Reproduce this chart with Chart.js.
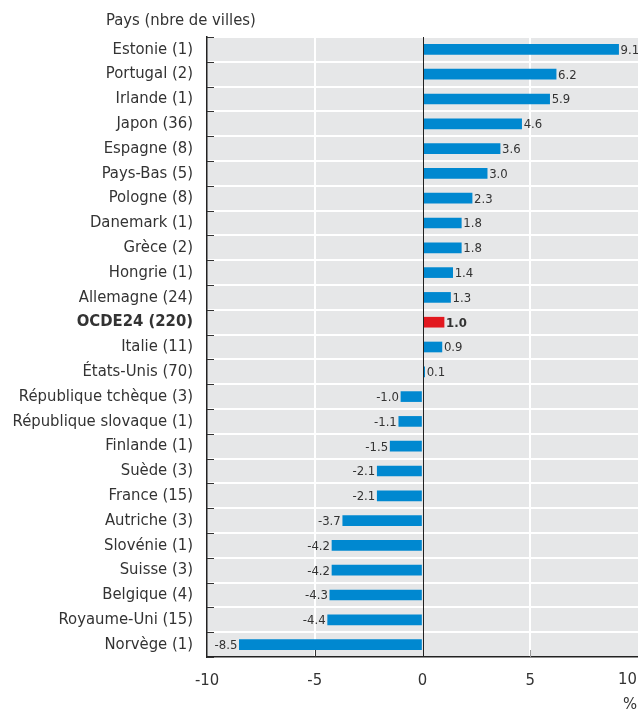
<!DOCTYPE html>
<html><head><meta charset="utf-8">
<script src="https://cdn.jsdelivr.net/npm/chart.js@4.4.1/dist/chart.umd.min.js"></script>
<style>html,body{margin:0;padding:0;background:#fff}#wrap{width:638px;height:712px;position:relative}</style>
</head><body><div id="wrap"><canvas id="c" width="638" height="712"></canvas></div>
<script>
const categories = ["Estonie (1)","Portugal (2)","Irlande (1)","Japon (36)","Espagne (8)","Pays-Bas (5)","Pologne (8)","Danemark (1)","Grèce (2)","Hongrie (1)","Allemagne (24)","OCDE24 (220)","Italie (11)","États-Unis (70)","République tchèque (3)","République slovaque (1)","Finlande (1)","Suède (3)","France (15)","Autriche (3)","Slovénie (1)","Suisse (3)","Belgique (4)","Royaume-Uni (15)","Norvège (1)"];
const values = [9.1,6.2,5.9,4.6,3.6,3.0,2.3,1.8,1.8,1.4,1.3,1.0,0.9,0.1,-1.0,-1.1,-1.5,-2.1,-2.1,-3.7,-4.2,-4.2,-4.3,-4.4,-8.5];
const xTicks = [-10,-5,0,5,10];
const highlight = "OCDE24 (220)";
const axisTitle = "Pays (nbre de villes)";
const unitLabel = "%";

const FONT = '"Liberation Sans Narrow","DejaVu Sans Condensed","Roboto Condensed",sans-serif';
const TXT = '#333333';
const BLUE = '#0088d0';
const RED = '#e2181f';
const XMAX = xTicks[xTicks.length - 1];

const decor = {
  id: 'decor',
  beforeDraw(chart) {
    const {ctx, chartArea: a} = chart;
    ctx.save();
    ctx.fillStyle = '#e6e7e8';
    ctx.fillRect(a.left, a.top, a.right - a.left, a.bottom - a.top);
    ctx.restore();
  },
  afterDatasetsDraw(chart) {
    const {ctx, chartArea: a, scales: {x, y}} = chart;
    ctx.save();
    const x0 = Math.round(x.getPixelForValue(0)) + 0.5;
    ctx.strokeStyle = '#222';
    ctx.lineWidth = 1;
    ctx.beginPath(); ctx.moveTo(x0, a.top); ctx.lineTo(x0, a.bottom); ctx.stroke();
    const n = categories.length;
    const step = (a.bottom - a.top) / n;
    ctx.strokeStyle = '#333';
    ctx.beginPath();
    for (let i = 0; i <= n; i++) {
      const yy = Math.round(a.top + i * step) + 0.5;
      ctx.moveTo(a.left, yy); ctx.lineTo(a.left + 7, yy);
    }
    ctx.stroke();
    [-5, 5].forEach(v => {
      const xx = Math.round(x.getPixelForValue(v)) + 0.5;
      ctx.strokeStyle = v < 0 ? '#333' : '#999';
      ctx.beginPath(); ctx.moveTo(xx, a.bottom); ctx.lineTo(xx, a.bottom - 7); ctx.stroke();
    });
    const meta = chart.getDatasetMeta(0);
    ctx.textBaseline = 'middle';
    meta.data.forEach((bar, i) => {
      const v = values[i];
      const bold = categories[i] === highlight;
      ctx.font = (bold ? 'bold ' : '') + '13px ' + FONT;
      ctx.fillStyle = TXT;
      const s = v.toFixed(1);
      if (v >= 0) { ctx.textAlign = 'left'; ctx.fillText(s, bar.x + 2, bar.y + 1); }
      else { ctx.textAlign = 'right'; ctx.fillText(s, bar.x - 2, bar.y + 1); }
    });
    ctx.font = '16.5px ' + FONT;
    ctx.fillStyle = TXT;
    ctx.textAlign = 'left';
    ctx.fillText(axisTitle, 106, 21);
    // last x tick label, kept inside the canvas
    ctx.textAlign = 'right';
    ctx.textBaseline = 'top';
    ctx.fillText(String(XMAX), chart.width - 1, a.bottom + 14);
    ctx.textAlign = 'center';
    ctx.textBaseline = 'middle';
    ctx.fillText(unitLabel, 630, 705);
    ctx.restore();
  }
};

new Chart(document.getElementById('c'), {
  type: 'bar',
  data: {
    labels: categories,
    datasets: [{
      data: values,
      backgroundColor: categories.map(c => c === highlight ? RED : BLUE),
      barThickness: 10,
      borderWidth: 0
    }]
  },
  options: {
    indexAxis: 'y',
    responsive: false,
    animation: false,
    devicePixelRatio: 1,
    layout: {padding: {top: 37, right: 0, bottom: 0, left: 0}},
    plugins: {legend: {display: false}, tooltip: {enabled: false}},
    scales: {
      x: {
        min: xTicks[0], max: XMAX,
        afterBuildTicks(s) { s.ticks = xTicks.map(v => ({value: v})); },
        afterFit(s) { s.height = 55; s.paddingRight = 0; s.paddingLeft = 0; },
        grid: {
          color: ctx => (ctx.tick && (ctx.tick.value === 5 || ctx.tick.value === -5)) ? '#ffffff' : 'rgba(0,0,0,0)',
          lineWidth: 2,
          drawTicks: false
        },
        border: {color: '#222', width: 1.5},
        ticks: {
          color: TXT, padding: 14,
          font: {family: FONT, size: 16.5},
          callback: v => (v === XMAX ? '' : String(v))
        }
      },
      y: {
        afterFit(s) { s.width = 207; },
        grid: {offset: true, color: '#ffffff', lineWidth: 2, drawTicks: false},
        border: {color: '#222', width: 1.5},
        ticks: {
          color: TXT, padding: 14,
          font: ctx => ({family: FONT, size: 16.5, weight: (categories[ctx.index] === highlight ? 'bold' : 'normal')})
        }
      }
    }
  },
  plugins: [decor]
});
</script></body></html>
